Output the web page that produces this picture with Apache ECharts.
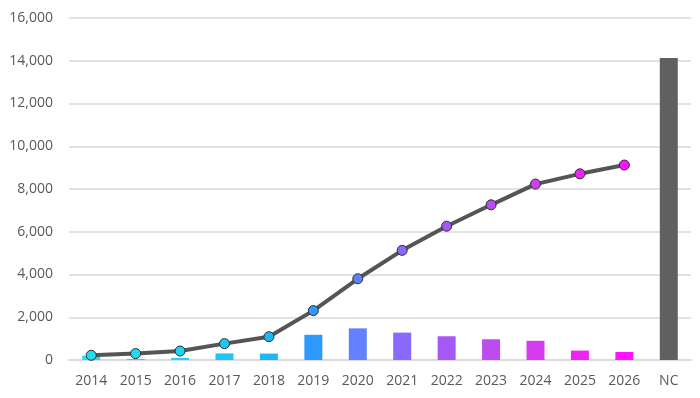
<!DOCTYPE html>
<html>
<head>
    <meta charset="utf-8">
    <title>chart</title>
    <script src="https://cdn.jsdelivr.net/npm/echarts@6/dist/echarts.min.js"></script>
    <style>
        html, body { margin: 0; padding: 0; background: #ffffff; }
        #main { width: 700px; height: 398px; }
    </style>
</head>
<body>
<div id="main"></div>
<script>
    // categories and values
    var categories = ['2014', '2015', '2016', '2017', '2018', '2019', '2020', '2021', '2022', '2023', '2024', '2025', '2026', 'NC'];
    var barValues = [200, 50, 100, 310, 300, 1180, 1480, 1280, 1110, 970, 900, 440, 375, 14130];
    var lineValues = [220, 300, 420, 765, 1090, 2310, 3800, 5130, 6260, 7260, 8230, 8710, 9120, null];
    var colors = ['#22DDF0', '#22DAF2', '#20D2F4', '#1EC6F6', '#1FB6F8', '#2E9AFE', '#6380FF', '#8A6AFC', '#A657F5', '#BC4BF0', '#D63CF0', '#EE24F4', '#FF12FF', '#606060'];

    var chart = echarts.init(document.getElementById('main'));

    var barData = barValues.map(function (v, i) {
        return { value: v, itemStyle: { color: colors[i] } };
    });
    var lineData = lineValues.map(function (v, i) {
        if (v === null) return '-';
        return { value: v, itemStyle: { color: colors[i] } };
    });

    var option = {
        animation: false,
        backgroundColor: '#ffffff',
        grid: { left: 69, right: 9, top: 18, bottom: 38 },
        xAxis: {
            type: 'category',
            data: categories,
            axisLine: { lineStyle: { color: '#d9d9d9', width: 1.5 } },
            axisTick: { show: false },
            axisLabel: { color: '#595959', fontSize: 14, fontFamily: 'Open Sans', margin: 14 }
        },
        yAxis: {
            type: 'value',
            min: 0,
            max: 16000,
            interval: 2000,
            axisLine: { show: false },
            axisTick: { show: false },
            splitLine: { lineStyle: { color: '#d9d9d9', width: 1.5 } },
            axisLabel: {
                color: '#595959', fontSize: 14, fontFamily: 'Open Sans', margin: 16,
                formatter: function (v) { return v.toLocaleString('en-US'); }
            }
        },
        series: [
            {
                type: 'bar',
                data: barData,
                barWidth: 18
            },
            {
                type: 'line',
                data: lineData,
                symbol: 'circle',
                symbolSize: 10,
                lineStyle: { color: '#555555', width: 4 },
                itemStyle: { borderColor: '#2f2f2f', borderWidth: 1 },
                z: 5
            }
        ]
    };
    chart.setOption(option);
</script>
</body>
</html>
